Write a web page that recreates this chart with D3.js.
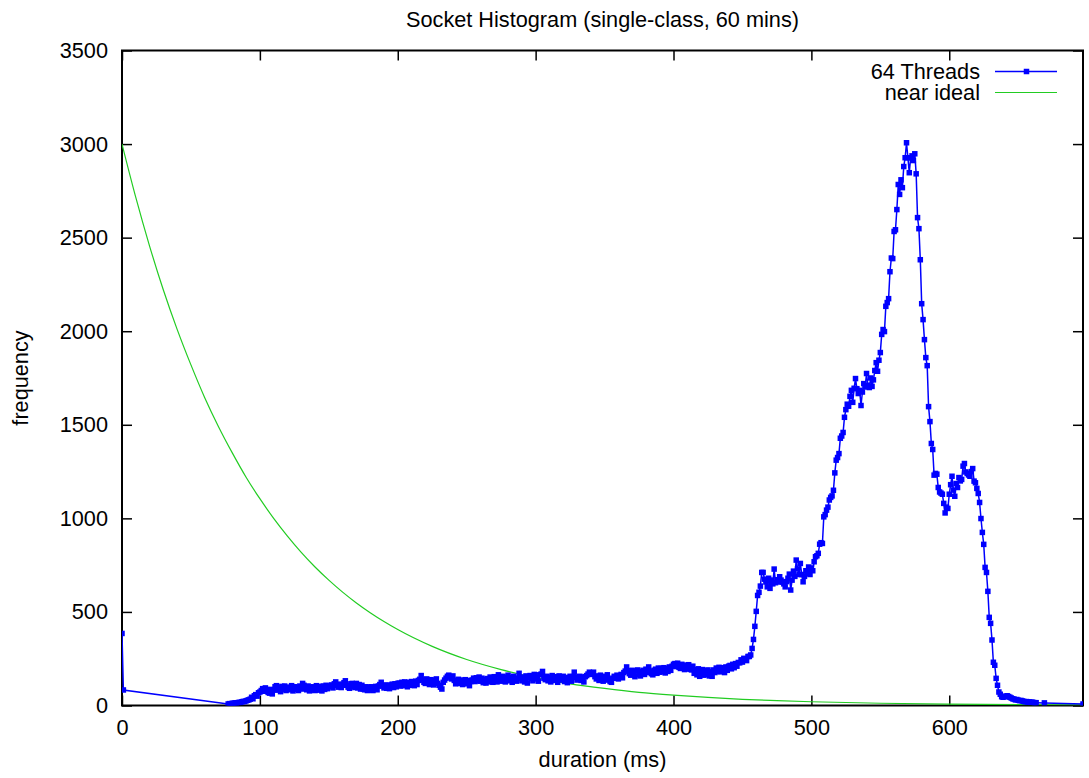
<!DOCTYPE html>
<html>
<head>
<meta charset="utf-8">
<script src="https://cdn.jsdelivr.net/npm/d3@7"></script>
<style>
  body { margin: 0; background: #fff; }
  text { font-family: "Liberation Sans", Arial, Helvetica, sans-serif; fill: #000; }
</style>
</head>
<body>
<svg id="chart" width="1089" height="778"></svg>
<script>
// 64 Threads: two isolated bins at the start, a run of 1 ms bins, then a sparse tail
const headMs = [0, 1];
const headCounts = [385, 83];

const firstBin = 77;
const binCounts = [
  // 77-100
  8, 10, 9, 12, 11, 14, 13, 15, 17, 16, 20, 22, 21, 25, 28, 30,
  34, 44, 36, 52, 58, 50, 68, 72,
  // 101-130
  80, 90, 76, 94, 85, 70, 66, 86, 62, 84,
  100, 106, 82, 98, 74, 102, 86, 104, 80, 98, 84, 96, 106, 78, 100, 86, 98, 80, 104, 88,
  // 131-150
  118, 108, 92, 84, 104, 78, 98, 82, 100, 80, 106, 88, 82, 102, 78, 104, 86, 108, 90, 100,
  // 151-175
  104, 110, 94, 116, 126, 108, 98, 114, 96, 112, 122, 132, 108, 98, 92, 116, 118, 100, 96, 118, 94, 112, 88, 108, 88,
  // 176-200
  84, 100, 80, 98, 82, 100, 80, 94, 102, 84, 104, 112, 124, 104, 94, 110, 92, 106, 90, 110, 114, 96, 116, 100, 118,
  // 201-230
  120, 104, 124, 106, 126, 110, 100, 124, 108, 128, 112, 106, 130, 112, 134, 140, 160, 136, 124, 118,
  142, 122, 112, 138, 120, 110, 136, 142, 118, 108,
  // 231-260
  98, 88, 124, 136, 146, 156, 162, 152, 142, 158, 134, 116, 134, 140, 118, 136, 112, 132, 138, 116,
  134, 106, 128, 136, 146, 128, 148, 132, 152, 130,
  // 261-290
  146, 122, 140, 120, 144, 126, 152, 134, 124, 154, 132, 126, 164, 136, 130, 156, 134, 126, 152, 162,
  132, 150, 124, 156, 136, 130, 146, 172, 144, 132,
  // 291-320
  152, 126, 158, 120, 150, 160, 144, 132, 166, 142, 148, 130, 164, 168, 182, 146, 138, 156, 132, 152,
  126, 160, 134, 142, 154, 124, 158, 136, 144, 156,
  // 321-350
  128, 146, 122, 150, 156, 130, 154, 178, 150, 136, 144, 156, 134, 152, 126, 154, 160, 168, 178, 166,
  172, 178, 154, 142, 158, 134, 162, 138, 130, 156,
  // 351-380
  136, 164, 140, 128, 124, 146, 156, 146, 162, 142, 156, 166, 148, 176, 184, 206, 186, 170, 162, 188,
  168, 154, 184, 190, 164, 158, 182, 188, 166, 194,
  // 381-410
  176, 206, 184, 170, 164, 188, 194, 172, 200, 178, 198, 180, 202, 174, 198, 182, 206, 188, 210, 220,
  224, 208, 226, 204, 198, 220, 202, 192, 216, 196,
  // 411-440
  218, 194, 190, 210, 172, 192, 164, 196, 156, 182, 192, 162, 186, 166, 190, 158, 180, 156, 190, 176,
  200, 182, 204, 180, 202, 184, 176, 206, 188, 210,
  // 441-465
  214, 196, 220, 202, 224, 210, 230, 228, 244, 232, 252, 248, 240, 262, 262,
  270, 305, 353, 423, 503, 588, 605, 638, 711, 711,
  // 466-500
  675, 660, 634, 680, 626, 670, 650, 729, 656, 672, 660, 688, 670, 660, 650, 634, 662, 680, 702, 617,
  670, 718, 690, 777, 730, 700, 759, 700, 661, 690, 720, 705, 740, 700, 735,
  // 501-524
  720, 768, 795, 800, 813, 862, 870, 866, 1008, 1020, 1044, 1060, 1098, 1112, 1120, 1150, 1243, 1311,
  1325, 1346, 1428, 1440, 1459, 1540,
  // 525-550
  1581, 1610, 1599, 1652, 1684, 1620, 1695, 1747, 1693, 1667, 1684, 1603, 1675, 1720, 1702, 1774,
  1711, 1699, 1750, 1705, 1740, 1790, 1832, 1786, 1845, 1886,
  // 551-576
  1983, 2009, 1998, 2133, 2153, 2174, 2318, 2391, 2388, 2533, 2542, 2650, 2784, 2731, 2809, 2767,
  2880, 2927, 3007, 2927, 2847, 2927, 2937, 2912, 2948, 2841,
  // 577-600
  2607, 2548, 2382, 2147, 2062, 1955, 1859, 1816, 1597, 1517, 1400, 1368, 1231, 1240, 1236, 1165,
  1141, 1135, 1129, 1080, 1029, 1060, 1053, 1129,
  // 601-636
  1180, 1225, 1151, 1118, 1186, 1165, 1218, 1200, 1208, 1279, 1293, 1248, 1240, 1232, 1225, 1250,
  1266, 1199, 1190, 1160, 1133, 1085, 999, 925, 861, 738, 711, 610, 471, 439, 350, 231, 215, 145, 108, 72,
  // 637-663
  60, 47, 44, 47, 50, 52, 48, 44, 40, 36, 34, 30, 32, 28, 26, 27, 24, 22, 20, 21, 18, 19, 17, 18, 16, 15, 15
];

const tailMs = [669, 697];
const tailCounts = [14, 8];

// near ideal curve at regular durations
const idealMs = [0, 10, 20, 30, 40, 50, 60, 70, 80, 90, 100, 110, 120, 130, 140, 150, 160, 170, 180, 190,
  200, 225, 250, 275, 300, 325, 350, 375, 400, 425, 450, 475, 500, 550, 600, 650, 697];
const idealCounts = [3000, 2715, 2455, 2220, 2010, 1820, 1645, 1490, 1350, 1220, 1105, 1000, 905, 818,
  740, 670, 606, 548, 496, 449, 406, 316, 246, 192, 149, 116, 91, 70, 55, 43, 33, 26, 20, 12, 7, 5, 3];

const xTicks = [0, 100, 200, 300, 400, 500, 600];
const yTicks = [0, 500, 1000, 1500, 2000, 2500, 3000, 3500];

const titleText = "Socket Histogram (single-class, 60 mins)";
const xLabel = "duration (ms)";
const yLabel = "frequency";
const seriesNames = ["64 Threads", "near ideal"];

const blue = "#0000ff";
const green = "#22cc22";

const threads = headMs.map((d, i) => ({ ms: d, n: headCounts[i] }))
  .concat(binCounts.map((n, i) => ({ ms: firstBin + i, n: n })))
  .concat(tailMs.map((d, i) => ({ ms: d, n: tailCounts[i] })));
const ideal = idealMs.map((d, i) => ({ ms: d, n: idealCounts[i] }));

const svg = d3.select("#chart");
const plotLeft = 122, plotRight = 1083, plotTop = 50.5, plotBottom = 705.5;

const x = d3.scaleLinear().domain([0, 697]).range([plotLeft, plotRight]);
const y = d3.scaleLinear().domain([0, 3500]).range([plotBottom, plotTop]);

svg.append("defs").append("clipPath").attr("id", "plot")
  .append("rect")
  .attr("x", plotLeft).attr("y", plotTop - 3)
  .attr("width", plotRight - plotLeft).attr("height", plotBottom - plotTop + 3);

// axes, gnuplot style: ticks inside, mirrored on top and right
const fontSize = "21.7px";

const gx = svg.append("g")
  .attr("transform", `translate(0,${plotBottom})`)
  .call(d3.axisBottom(x).tickValues(xTicks).tickFormat(d3.format("d"))
    .tickSizeInner(-10).tickSizeOuter(0).tickPadding(14.5));
const gy = svg.append("g")
  .attr("transform", `translate(${plotLeft},0)`)
  .call(d3.axisLeft(y).tickValues(yTicks).tickFormat(d3.format("d"))
    .tickSizeInner(-10).tickSizeOuter(0).tickPadding(14));
const gt = svg.append("g")
  .attr("transform", `translate(0,${plotTop})`)
  .call(d3.axisTop(x).tickValues(xTicks).tickSizeInner(-10).tickSizeOuter(0).tickFormat(""));
const gr = svg.append("g")
  .attr("transform", `translate(${plotRight},0)`)
  .call(d3.axisRight(y).tickValues(yTicks).tickSizeInner(-10).tickSizeOuter(0).tickFormat(""));

[gx, gy, gt, gr].forEach(g => {
  g.select(".domain").remove();
  g.selectAll(".tick line").attr("stroke", "#000").attr("stroke-width", 1.5);
  g.selectAll(".tick text").style("font-size", fontSize).attr("fill", "#000");
});

svg.append("rect")
  .attr("x", plotLeft).attr("y", plotTop)
  .attr("width", plotRight - plotLeft).attr("height", plotBottom - plotTop)
  .attr("fill", "none").attr("stroke", "#000").attr("stroke-width", 2);

// title and axis labels
svg.append("text")
  .attr("x", (plotLeft + plotRight) / 2).attr("y", 26.7)
  .attr("text-anchor", "middle").style("font-size", fontSize)
  .text(titleText);

svg.append("text")
  .attr("x", (plotLeft + plotRight) / 2).attr("y", 767)
  .attr("text-anchor", "middle").style("font-size", fontSize)
  .text(xLabel);

svg.append("text")
  .attr("transform", "rotate(-90)")
  .attr("x", -(plotTop + plotBottom) / 2).attr("y", 28)
  .attr("text-anchor", "middle").style("font-size", fontSize)
  .text(yLabel);

const plot = svg.append("g").attr("clip-path", "url(#plot)");

// near ideal
plot.append("path")
  .datum(ideal)
  .attr("fill", "none")
  .attr("stroke", green)
  .attr("stroke-width", 1.2)
  .attr("d", d3.line().curve(d3.curveMonotoneX).x(d => x(d.ms)).y(d => y(d.n)));

// 64 Threads
plot.append("path")
  .datum(threads)
  .attr("fill", "none")
  .attr("stroke", blue)
  .attr("stroke-width", 1.5)
  .attr("d", d3.line().x(d => x(d.ms)).y(d => y(d.n)));

const markerSize = 5.5;
plot.selectAll("rect.pt")
  .data(threads)
  .join("rect")
  .attr("class", "pt")
  .attr("x", d => x(d.ms) - markerSize / 2)
  .attr("y", d => y(d.n) - markerSize / 2)
  .attr("width", markerSize).attr("height", markerSize)
  .attr("fill", blue);

// legend
const legend = svg.append("g");
const legendY = [71.5, 92.5];
const legendColors = [blue, green];
seriesNames.forEach((name, i) => {
  legend.append("text")
    .attr("x", 980).attr("y", legendY[i] + 7.8)
    .attr("text-anchor", "end").style("font-size", fontSize)
    .text(name);
  legend.append("line")
    .attr("x1", 995).attr("x2", 1057)
    .attr("y1", legendY[i]).attr("y2", legendY[i])
    .attr("stroke", legendColors[i])
    .attr("stroke-width", i === 0 ? 1.5 : 1.2);
});
legend.append("rect")
  .attr("x", 1026.5 - markerSize / 2).attr("y", legendY[0] - markerSize / 2)
  .attr("width", markerSize).attr("height", markerSize)
  .attr("fill", blue);
</script>
</body>
</html>
